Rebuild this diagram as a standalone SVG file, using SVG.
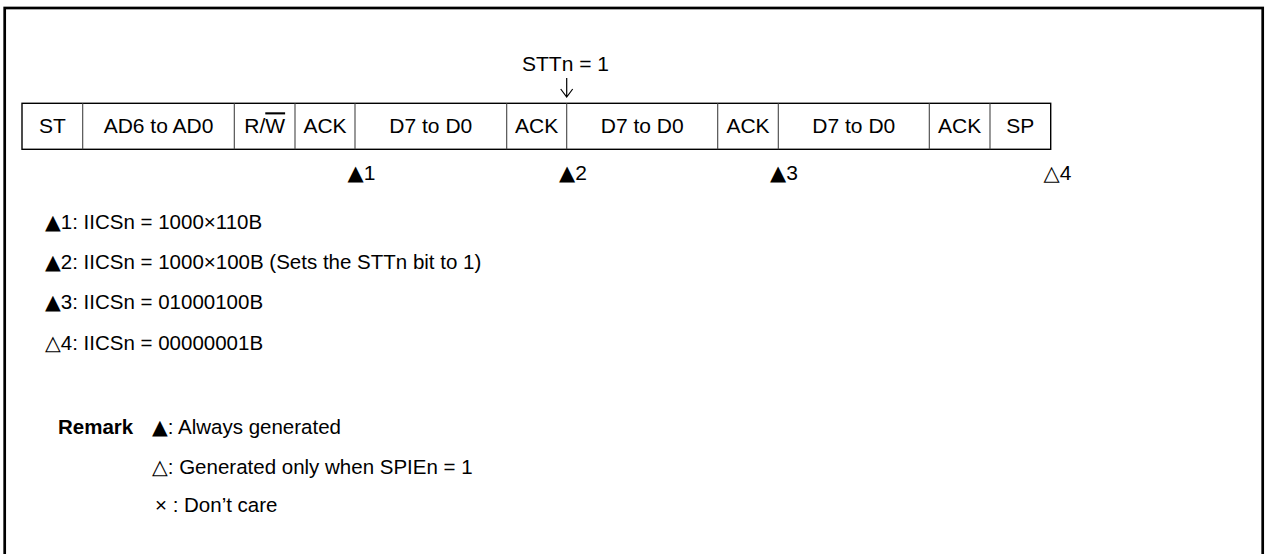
<svg xmlns="http://www.w3.org/2000/svg" width="1265" height="554" viewBox="0 0 1265 554">
<style>
  text { font-family: "Liberation Sans", Arial, sans-serif; font-size: 21px; fill: #000; }
  .c { text-anchor: middle; }
  .n { font-size: 20.5px; }
  .sym { font-family: "DejaVu Sans", sans-serif; }
  .b { font-weight: bold; }
  .frame { fill: none; stroke: #000; stroke-width: 2.7; }
  .bar { fill: #fff; stroke: #000; stroke-width: 1.4; }
  .div { stroke: #444; stroke-width: 1.1; }
  .arr { fill: none; stroke: #000; stroke-width: 1.2; }
</style>
<rect width="1265" height="554" fill="#fff"/>
<rect class="frame" x="4.7" y="8" width="1258" height="560"/>

<g id="frame-bar">
  <rect class="bar" x="22" y="103.3" width="1028.7" height="46"/>
</g>
<g id="cells">
  <g id="cell-st"><text class="c" x="52.3" y="133.3">ST</text></g>
  <g id="cell-ad"><text class="c" x="158.5" y="133.3">AD6 to AD0</text></g>
  <g id="cell-rw"><text class="c" x="264.7" y="133.3">R/<tspan style="text-decoration:overline">W</tspan></text></g>
  <g id="cell-ack1"><text class="c" x="325" y="133.3">ACK</text></g>
  <g id="cell-d1"><text class="c" x="430.8" y="133.3">D7 to D0</text></g>
  <g id="cell-ack2"><text class="c" x="536.7" y="133.3">ACK</text></g>
  <g id="cell-d2"><text class="c" x="642.2" y="133.3">D7 to D0</text></g>
  <g id="cell-ack3"><text class="c" x="748" y="133.3">ACK</text></g>
  <g id="cell-d3"><text class="c" x="853.8" y="133.3">D7 to D0</text></g>
  <g id="cell-ack4"><text class="c" x="959.7" y="133.3">ACK</text></g>
  <g id="cell-sp"><text class="c" x="1020.3" y="133.3">SP</text></g>
</g>
<g id="connectors">
  <line class="div" x1="82.7" y1="103.3" x2="82.7" y2="149.3"/>
  <line class="div" x1="234.3" y1="103.3" x2="234.3" y2="149.3"/>
  <line class="div" x1="295" y1="103.3" x2="295" y2="149.3" stroke="#000"/>
  <line class="div" x1="355" y1="103.3" x2="355" y2="149.3"/>
  <line class="div" x1="506.7" y1="103.3" x2="506.7" y2="149.3"/>
  <line class="div" x1="566.7" y1="103.3" x2="566.7" y2="149.3"/>
  <line class="div" x1="717.7" y1="103.3" x2="717.7" y2="149.3"/>
  <line class="div" x1="778.3" y1="103.3" x2="778.3" y2="149.3"/>
  <line class="div" x1="929.3" y1="103.3" x2="929.3" y2="149.3"/>
  <line class="div" x1="990" y1="103.3" x2="990" y2="149.3"/>
  <path class="arr" d="M566.7 78 V97 M560.7 89 L566.7 97 L572.7 89"/>
</g>
<g id="stt-label"><text class="c" x="565.5" y="70.7">STTn = 1</text></g>

<g id="markers">
  <text x="347.5" y="180"><tspan class="sym">▲</tspan>1</text>
  <text x="559" y="180"><tspan class="sym">▲</tspan>2</text>
  <text x="770" y="180"><tspan class="sym">▲</tspan>3</text>
  <text x="1043.5" y="180"><tspan class="sym">△</tspan>4</text>
</g>

<g id="notes">
  <text class="n" x="45" y="229"><tspan class="sym">▲</tspan>1: IICSn = 1000×110B</text>
  <text class="n" x="45" y="269"><tspan class="sym">▲</tspan>2: IICSn = 1000×100B (Sets the STTn bit to 1)</text>
  <text class="n" x="45" y="309"><tspan class="sym">▲</tspan>3: IICSn = 01000100B</text>
  <text class="n" x="45" y="350"><tspan class="sym">△</tspan>4: IICSn = 00000001B</text>
</g>

<g id="remark">
  <text class="n b" x="58" y="434">Remark</text>
  <text class="n" x="152" y="434"><tspan class="sym">▲</tspan>: Always generated</text>
  <text class="n" x="152" y="474"><tspan class="sym">△</tspan>: Generated only when SPIEn = 1</text>
  <text class="n" x="155" y="512">× : Don’t care</text>
</g>
</svg>
